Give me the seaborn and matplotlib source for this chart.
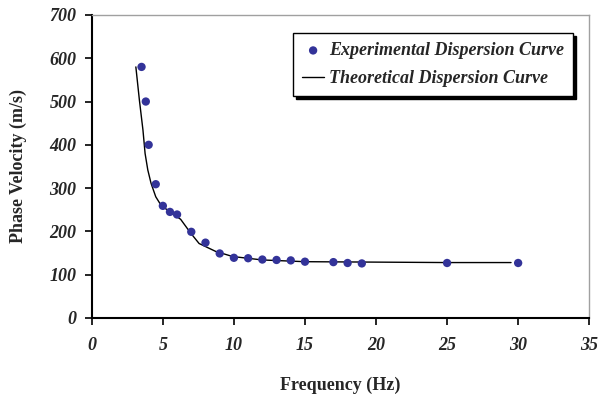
import numpy as np
import pandas as pd
import matplotlib
matplotlib.use('Agg')
import matplotlib.pyplot as plt
import seaborn as sns

freq_exp = [3.5, 3.8, 4.0, 4.5, 5.0, 5.5, 6.0, 7.0, 8.0, 9.0, 10.0, 11.0, 12.0,
            13.0, 14.0, 15.0, 17.0, 18.0, 19.0, 25.0, 30.0]
vel_exp = [580, 500, 400, 309, 259, 245, 239, 199, 174, 149, 139, 138, 135,
           134, 133, 130, 129, 127, 126, 127, 127]

# Curva teorica
freq_th = [3.1, 3.35, 3.6, 3.75, 3.94, 4.17, 4.5, 4.86, 5.45, 6.25, 6.96, 7.55,
           8.7, 9.9, 12.0, 15.0, 20.0, 25.0, 29.5]
vel_th = [580, 503, 434, 380, 342, 311, 280, 261, 246, 228, 196, 172,
          154, 142, 134, 130, 129, 128, 128]

df_exp = pd.DataFrame({'Frequency': freq_exp, 'Velocity': vel_exp})
df_th = pd.DataFrame({'Frequency': freq_th, 'Velocity': vel_th})

sns.set_style('white')
plt.rcParams['font.family'] = ['Liberation Serif', 'DejaVu Serif']

fig = plt.figure(figsize=(6, 3.94), dpi=100)
ax = fig.add_axes([0.153, 0.193, 0.829, 0.769])

sns.lineplot(data=df_th, x='Frequency', y='Velocity', ax=ax, color='black',
             linewidth=1.0, sort=False, estimator=None,
             label='Theoretical Dispersion Curve')
sns.scatterplot(data=df_exp, x='Frequency', y='Velocity', ax=ax, color='#333399',
                s=36, edgecolor='none', label='Experimental Dispersion Curve', zorder=3)

ax.set_xlim(0, 35)
ax.set_ylim(0, 700)
ax.set_xticks(range(0, 36, 5))
ax.set_yticks(range(0, 701, 100))

for lab in ax.get_xticklabels() + ax.get_yticklabels():
    lab.set_fontweight('bold')
    lab.set_fontstyle('italic')
    lab.set_fontsize(13)

ax.set_xlabel('Frequency (Hz)', fontsize=13, fontweight='bold', labelpad=16)
ax.set_ylabel('Phase Velocity (m/s)', fontsize=13, fontweight='bold', labelpad=16)

ax.tick_params(axis='x', pad=9)
ax.tick_params(axis='y', pad=6)
ax.tick_params(axis='both', direction='out', length=5, width=1.2, color='black',
               bottom=True, left=True)
for s in ['left', 'bottom']:
    ax.spines[s].set_color('black')
    ax.spines[s].set_linewidth(1.5)
for s in ['top', 'right']:
    ax.spines[s].set_color('#a0a0a0')
    ax.spines[s].set_linewidth(1.0)

handles, labels = ax.get_legend_handles_labels()
order = [1, 0]
leg = ax.legend([handles[i] for i in order], [labels[i] for i in order],
                loc='upper left', bbox_to_anchor=(0.405, 0.94), fancybox=False,
                shadow={'color': 'black', 'alpha': 1.0}, framealpha=1,
                edgecolor='black', handlelength=1.2, handletextpad=0.3,
                borderpad=0.5, labelspacing=0.6, borderaxespad=0,
                prop={'family': 'Liberation Serif', 'weight': 'bold',
                      'style': 'italic', 'size': 13})
leg.get_frame().set_linewidth(1.0)

fig.savefig('out.png', dpi=100)
